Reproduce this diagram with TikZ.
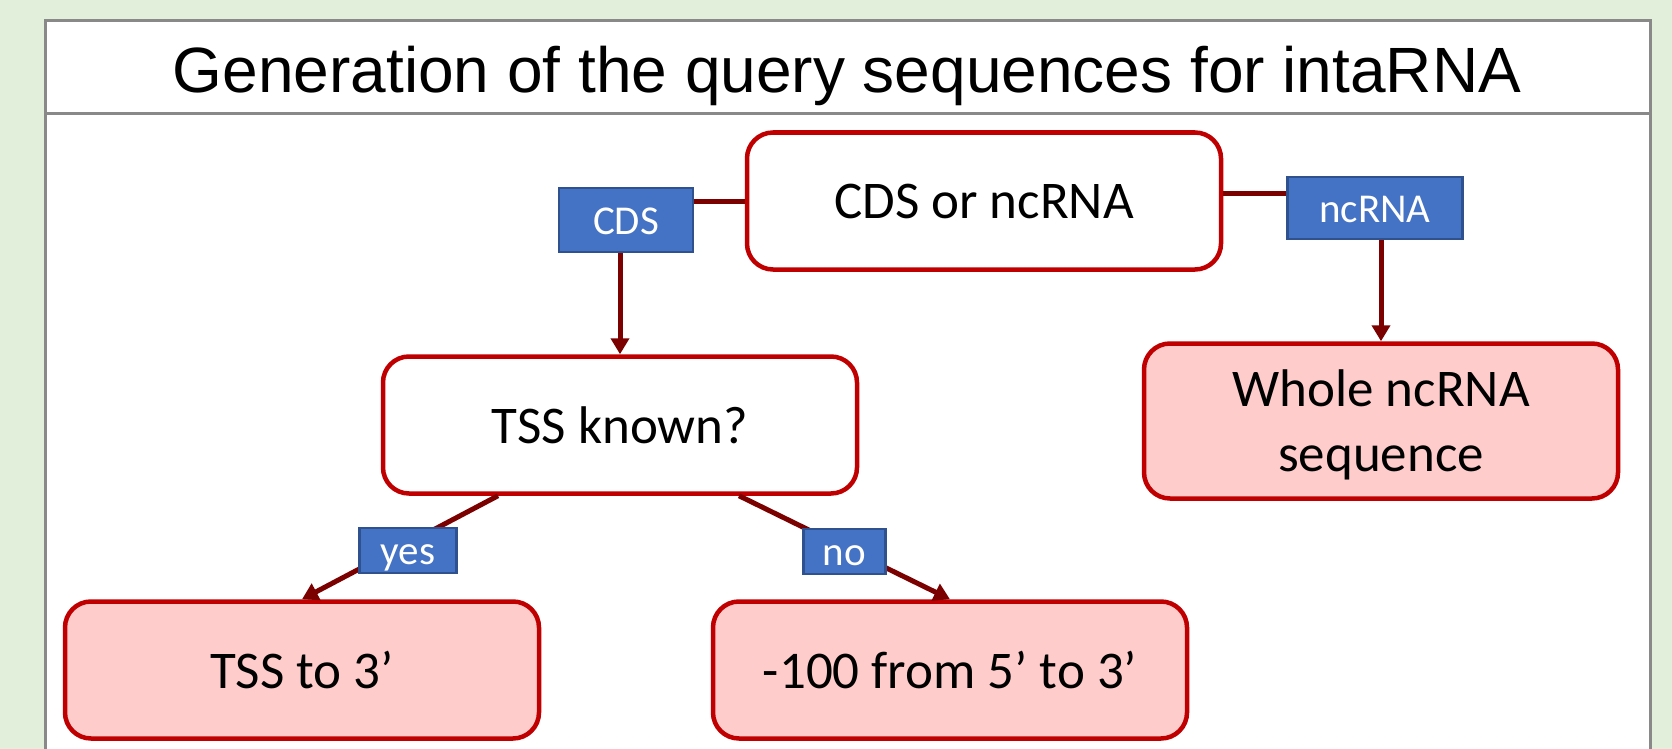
\documentclass[tikz,border=0pt]{standalone}
\usepackage{fontspec}
\setmainfont{Carlito}
\newfontfamily\titlefont{Liberation Sans}
\usepackage{xcolor}
\usepackage{tikz}
\usetikzlibrary{arrows.meta}
\usetikzlibrary{calc}

\definecolor{bggreen}{HTML}{E2EFDA}
\definecolor{framegray}{HTML}{898989}
\definecolor{boxred}{HTML}{C00000}
\definecolor{boxpink}{HTML}{FFCCCC}
\definecolor{linered}{HTML}{7B0000}
\definecolor{labblue}{HTML}{4472C4}
\definecolor{labedge}{HTML}{2F528F}

\tikzset{
    stepbox/.style = {draw = boxred, line width = 4.5pt, rounded corners = 26pt, fill = white,
        minimum width = 474pt, minimum height = 137pt, align = center,
        font = \fontsize{53}{65}\selectfont},
    endbox/.style = {stepbox, fill = boxpink},
    branch/.style = {draw = labedge, line width = 2.5pt, fill = labblue, text = white,
        inner sep = 0pt, text height = 28pt, text depth = 0pt,
        font = \fontsize{41}{49}\selectfont},
    link/.style = {draw = linered, line width = 5pt},
    arrowlink/.style = {link, -{Triangle[length = 16pt, width = 18pt]}}
}

\begin{document}
\begin{tikzpicture}[x = 1pt, y = -1pt]
        \useasboundingbox (0, 0) rectangle (1672, 749);
        \fill[bggreen] (0, 0) rectangle (1672, 749);

        % frame and title
        \filldraw[fill = white, draw = framegray, line width = 3pt]
            (45, 749) -- (45, 21) -- (1650, 21) -- (1650, 749);
        \draw[framegray, line width = 3pt] (45, 114) -- (1650, 114);
        \node[font = \titlefont\fontsize{64}{77}\selectfont, anchor = base] (title) at (847, 93)
            {Generation of the query sequences for intaRNA};

        % boxes
        \node[stepbox] (choice) at (984, 201) {CDS or ncRNA};
        \node[stepbox] (tssq) at (620, 425) {TSS known?};
        \node[endbox, minimum height = 155pt, text depth = 0pt] (whole) at (1381, 421) {Whole ncRNA\\sequence};
        \node[endbox] (tssend) at (302, 670) {TSS to 3’};
        \node[endbox] (upstream) at (950, 670) {-100 from 5’ to 3’};

        % connectors
        \draw[arrowlink] (choice.west) -| (tssq.north);
        \draw[arrowlink] ([yshift = 8pt]choice.east) -| (whole.north);
        \draw[arrowlink] ($(tssq.south) + (-122, 0)$) -- (tssend.north)
            node[branch, midway, xshift = 8pt, yshift = -3pt, minimum width = 97pt, minimum height = 45pt] (yeslab) {yes};
        \draw[arrowlink] ($(tssq.south) + (119, 0)$) -- (upstream.north)
            node[branch, midway, yshift = -4pt, minimum width = 82pt, minimum height = 45pt] (nolab) {no};

        \node[branch, minimum width = 134pt, minimum height = 64pt] (cdslab) at (626, 220) {CDS};
        \node[branch, minimum width = 175pt, minimum height = 62pt] (ncrnalab) at (1375, 208) {ncRNA};
    \end{tikzpicture}
\end{document}
